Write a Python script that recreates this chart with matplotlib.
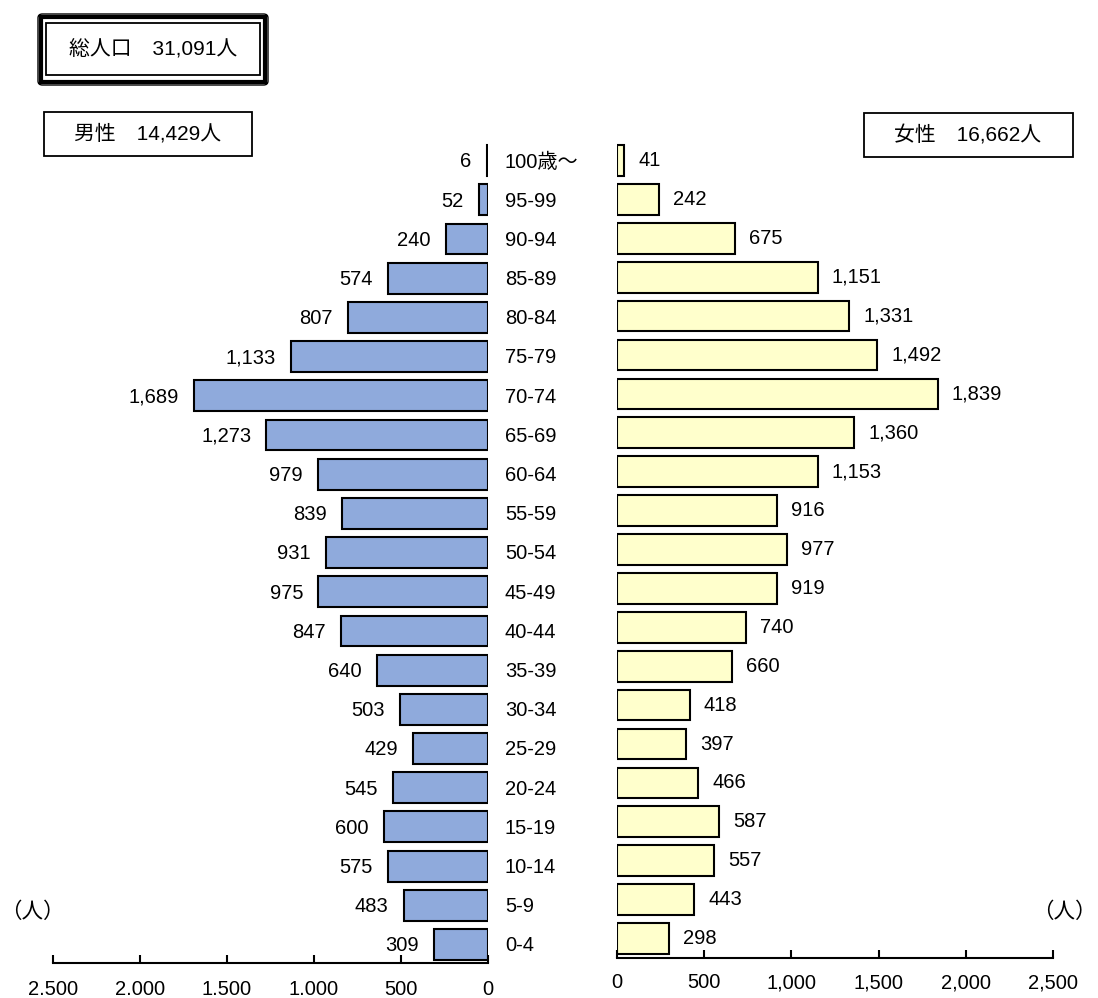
import matplotlib
matplotlib.use("Agg")
import matplotlib.pyplot as plt
import matplotlib.transforms as mtransforms
from matplotlib.patches import Rectangle, FancyBboxPatch

plt.rcParams['font.family'] = ['Liberation Sans', 'Noto Sans CJK JP', 'DejaVu Sans']

# data (youngest first)
ages = ['0-4', '5-9', '10-14', '15-19', '20-24', '25-29', '30-34', '35-39',
        '40-44', '45-49', '50-54', '55-59', '60-64', '65-69', '70-74',
        '75-79', '80-84', '85-89', '90-94', '95-99', '100歳〜']
male = [309, 483, 575, 600, 545, 429, 503, 640, 847, 975, 931, 839, 979,
        1273, 1689, 1133, 807, 574, 240, 52, 6]
female = [298, 443, 557, 587, 466, 397, 418, 660, 740, 919, 977, 916, 1153,
          1360, 1839, 1492, 1331, 1151, 675, 242, 41]
ticks = [0, 500, 1000, 1500, 2000, 2500]
left_ticklabels = ['0', '500', '1.000', '1.500', '2.000', '2.500']
right_ticklabels = ['0', '500', '1,000', '1,500', '2,000', '2,500']
total_label = '総人口　31,091人'
male_label = '男性　14,429人'
female_label = '女性　16,662人'

W, H = 1098, 998
fig = plt.figure(figsize=(W / 100, H / 100), dpi=100)


def fx(x):
    return x / W


def fy(y):
    return 1 - y / H


male_color = '#8FAADC'
female_color = '#FFFFCC'
fs = 14.5
pos = list(range(len(ages)))

# left (male) axes
axl = fig.add_axes([fx(53), fy(963), fx(488) - fx(53), fy(141) - fy(963)])
axl.barh(pos, male, height=0.79, color=male_color, edgecolor='black', linewidth=1.5)
axl.set_xlim(2500, 0)
axl.set_ylim(-0.47, 20.5)

# right (female) axes
axr = fig.add_axes([fx(617), fy(958), fx(1053) - fx(617), fy(141) - fy(958)])
axr.barh(pos, female, height=0.79, color=female_color, edgecolor='black', linewidth=1.5)
axr.set_xlim(0, 2500)
axr.set_ylim(-0.5, 20.5)

for ax, labels, pad in [(axl, left_ticklabels, 12), (axr, right_ticklabels, 11)]:
    for s in ['top', 'left', 'right']:
        ax.spines[s].set_visible(False)
    ax.spines['bottom'].set_linewidth(1.5)
    ax.set_yticks([])
    ax.set_xticks(ticks)
    ax.set_xticklabels(labels)
    ax.tick_params(axis='x', direction='in', length=6, width=1.5, pad=pad, labelsize=fs)
    ax.patch.set_alpha(0)

# value labels
for i, v in enumerate(male):
    axl.annotate(f'{v:,}', (v, i), xytext=(-11, -1), textcoords='offset points',
                 ha='right', va='center', fontsize=fs)
for i, v in enumerate(female):
    axr.annotate(f'{v:,}', (v, i), xytext=(10, 0), textcoords='offset points',
                 ha='left', va='center', fontsize=fs)

# age labels in the middle
trans = mtransforms.blended_transform_factory(fig.transFigure, axl.transData)
for i, a in enumerate(ages):
    axl.annotate(a, (fx(505), i), xycoords=trans, xytext=(0, -1), textcoords='offset points',
                 ha='left', va='center', fontsize=fs)

# total box (double frame)
fig.patches.append(FancyBboxPatch((fx(38), fy(85)), fx(268) - fx(38), fy(14) - fy(85),
                                  boxstyle='round,pad=0,rounding_size=0.004',
                                  transform=fig.transFigure, fill=False,
                                  edgecolor='black', linewidth=1.0))
fig.patches.append(Rectangle((fx(41), fy(82)), fx(265) - fx(41), fy(17) - fy(82),
                             transform=fig.transFigure, fill=False,
                             edgecolor='black', linewidth=3.0))
fig.patches.append(Rectangle((fx(46), fy(75)), fx(260) - fx(46), fy(23) - fy(75),
                             transform=fig.transFigure, fill=False,
                             edgecolor='black', linewidth=1.3))
fig.text(fx(153), fy(50), total_label, ha='center', va='center', fontsize=15)

# male / female boxes
fig.patches.append(Rectangle((fx(44), fy(156)), fx(252) - fx(44), fy(112) - fy(156),
                             transform=fig.transFigure, fill=False,
                             edgecolor='black', linewidth=1.3))
fig.text(fx(148), fy(134), male_label, ha='center', va='center', fontsize=15)
fig.patches.append(Rectangle((fx(864), fy(157)), fx(1073) - fx(864), fy(113) - fy(157),
                             transform=fig.transFigure, fill=False,
                             edgecolor='black', linewidth=1.3))
fig.text(fx(968), fy(135), female_label, ha='center', va='center', fontsize=15)

# unit labels
fig.text(fx(32), fy(912), '（人）', ha='center', va='center', fontsize=15.5)
fig.text(fx(1064), fy(912), '（人）', ha='center', va='center', fontsize=15.5)

fig.savefig('out.png', dpi=100)
